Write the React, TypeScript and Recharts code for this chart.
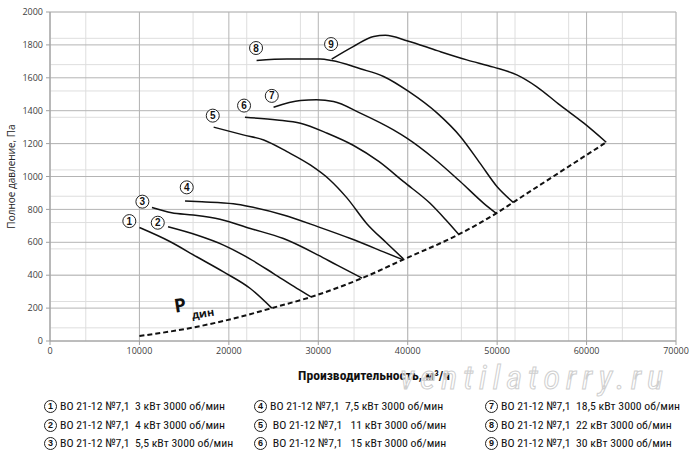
import { ComposedChart, Line, Scatter, XAxis, YAxis, CartesianGrid } from 'recharts';

// fan curves: [flow m3/h, pressure Pa]
const curve1 = [[10000, 690], [13400, 605], [16400, 512], [19400, 420], [22400, 319], [24800, 200]];
const curve2 = [[13200, 694], [16400, 644], [19400, 583], [22400, 498], [25000, 410], [27600, 320], [29200, 268]];
const curve3 = [[11400, 812], [13600, 780], [16000, 766], [19000, 740], [22400, 684], [26100, 623], [30000, 522], [32100, 461], [34900, 382]];
const curve4 = [[15100, 851], [17000, 846], [20500, 834], [22400, 816], [26100, 766], [30000, 694], [33600, 623], [37300, 542], [39500, 493]];
const curve5 = [[18300, 1300], [21600, 1253], [23900, 1222], [26500, 1151], [29100, 1070], [31300, 979], [33200, 870], [35400, 715], [37700, 593], [39500, 500]];
const curve6 = [[21800, 1360], [25400, 1344], [28000, 1324], [31000, 1263], [33900, 1190], [36800, 1090], [39500, 970], [42500, 837], [44200, 740], [45700, 648]];
const curve7 = [[25000, 1421], [28000, 1462], [29800, 1466], [31700, 1456], [34700, 1385], [38400, 1283], [39900, 1233], [42900, 1111], [45900, 968], [48500, 837], [49900, 776]];
const curve8 = [[23100, 1705], [26500, 1714], [30200, 1714], [31500, 1705], [34700, 1655], [37300, 1608], [40100, 1517], [43300, 1385], [45900, 1242], [48100, 1080], [50000, 938], [51800, 843]];
const curve9 = [[31500, 1714], [33900, 1790], [36200, 1851], [37500, 1858], [40000, 1824], [43300, 1765], [46600, 1709], [49600, 1665], [52200, 1618], [54400, 1547], [57000, 1435], [59700, 1324], [62200, 1208]];
const dynamic = [[10000, 30], [16000, 82], [21500, 150], [24800, 200], [29200, 268], [34900, 382], [39500, 495], [45700, 648], [49900, 776], [51800, 843], [62200, 1208]];

const curves = [curve1, curve2, curve3, curve4, curve5, curve6, curve7, curve8, curve9];

// circled number positions
const markerNums = [1, 2, 3, 4, 5, 6, 7, 8, 9];
const markerX = [8870, 12050, 10330, 15290, 18200, 21700, 24800, 23040, 31430];
const markerY = [729, 719, 847, 934, 1370, 1431, 1490, 1781, 1805];

const xTicks = [0, 10000, 20000, 30000, 40000, 50000, 60000, 70000];
const yTicks = [0, 200, 400, 600, 800, 1000, 1200, 1400, 1600, 1800, 2000];
const xMinor = Array.from({ length: 36 }, (_, i) => i * 2000);
const yMinor = Array.from({ length: 51 }, (_, i) => i * 40);

const legendRows = [
  ['1', 'ВО 21-12 №7,1  3 кВт 3000 об/мин', '4', 'ВО 21-12 №7,1  7,5 кВт 3000 об/мин', '7', 'ВО 21-12 №7,1  18,5 кВт 3000 об/мин'],
  ['2', 'ВО 21-12 №7,1  4 кВт 3000 об/мин', '5', ' ВО 21-12 №7,1   11 кВт 3000 об/мин', '8', 'ВО 21-12 №7,1  22 кВт 3000 об/мин'],
  ['3', 'ВО 21-12 №7,1  5,5 кВт 3000 об/мин', '6', ' ВО 21-12 №7,1   15 кВт 3000 об/мин', '9', 'ВО 21-12 №7,1  30 кВт 3000 об/мин'],
];

const toPts = (c: number[][]) => c.map(([x, y]) => ({ x, y }));
const markers = markerNums.map((n, i) => ({ x: markerX[i], y: markerY[i], n }));
const pdinPos = [{ x: 14000, y: 172 }];

const COND = '"Liberation Sans Narrow", "Arial Narrow", "Roboto Condensed", sans-serif';
const TICK = { fontSize: 9, fill: '#404040', fontFamily: '"Open Sans", sans-serif' };

function Circled({ n }: { n: string }) {
  return (
    <span style={{
      display: 'inline-block', width: 11, height: 11, border: '1px solid #222', borderRadius: '50%',
      fontSize: 9, lineHeight: '11px', textAlign: 'center', fontWeight: 'bold', marginRight: 3,
      fontFamily: '"Liberation Sans", sans-serif', verticalAlign: 'middle',
    }}>{n}</span>
  );
}

export default function App() {
  const colX = [44, 254, 485];
  return (
    <div style={{ position: 'absolute', left: 0, top: 0, width: 700, height: 457, background: '#fff' }}>
      <ComposedChart width={700} height={457} margin={{ top: 12, right: 24, left: 0, bottom: 76 }}>
        <CartesianGrid stroke="#dedede" horizontalValues={yMinor} verticalValues={xMinor} />
        <CartesianGrid stroke="#b4b4b4" horizontalValues={yTicks} verticalValues={xTicks} />
        <XAxis type="number" dataKey="x" domain={[0, 70000]} ticks={xTicks} height={40}
          tick={TICK} tickSize={4} tickMargin={3} stroke="#a0a0a0" allowDuplicatedCategory={false}
          label={{
            content: ({ viewBox }: any) => (
              <text x={374} y={viewBox.y + 39} textAnchor="middle"
                fontSize={13.6} fontWeight="bold" fontFamily={COND} fill="#111">
                Производительность, м³/ч
              </text>
            ),
          }} />
        <YAxis type="number" dataKey="y" domain={[0, 2000]} ticks={yTicks} width={50}
          tick={TICK} tickSize={4} tickMargin={3} stroke="#a0a0a0"
          label={{
            content: ({ viewBox }: any) => {
              const cy = viewBox.y + viewBox.height / 2;
              return (
                <text x={12} y={cy} transform={`rotate(-90 12 ${cy})`} textAnchor="middle"
                  dominantBaseline="middle" fontSize={10} fontFamily='"Open Sans", sans-serif' fill="#222">
                  Полное давление, Па
                </text>
              );
            },
          }} />
        <Line data={toPts(dynamic)} dataKey="y" type="monotone" stroke="#111" strokeWidth={2}
          strokeDasharray="5 3" dot={false} isAnimationActive={false} />
        {curves.map((c, i) => (
          <Line key={i} data={toPts(c)} dataKey="y" type="monotone" stroke="#111" strokeWidth={1.5}
            dot={false} isAnimationActive={false} />
        ))}
        <Scatter data={markers} isAnimationActive={false}
          shape={(p: any) => (
            <g>
              <circle cx={p.cx} cy={p.cy} r={6.5} fill="#fff" stroke="#222" strokeWidth={1} />
              <text x={p.cx} y={p.cy + 3.5} textAnchor="middle" fontSize={10} fontWeight="bold"
                fontFamily='"Liberation Sans", sans-serif' fill="#111">{p.payload.n}</text>
            </g>
          )} />
        <Scatter data={pdinPos} isAnimationActive={false}
          shape={(p: any) => (
            <g transform={`rotate(-9 ${p.cx} ${p.cy})`}>
              <text x={p.cx} y={p.cy} fontSize={19} fontWeight="bold" fontFamily='"Open Sans", sans-serif' fill="#111">P</text>
              <text x={p.cx + 16} y={p.cy + 9} fontSize={11} fontWeight="bold" fontFamily='"Open Sans", sans-serif' fill="#111">дин</text>
            </g>
          )} />
      </ComposedChart>

      <svg width={700} height={457} style={{ position: 'absolute', left: 0, top: 0, pointerEvents: 'none' }}>
        <text x={400} y={389} fontSize={34} fontStyle="italic" fontFamily={COND}
          fill="rgba(255,255,255,0.55)" stroke="#cfcfcf" strokeWidth={1} letterSpacing={6}>ventilatorry.ru</text>
      </svg>

      {legendRows.map((row, r) => (
        <div key={r} style={{ position: 'absolute', top: 399 + r * 18.5, left: 0, width: 700, height: 16 }}>
          {[0, 1, 2].map(c => (
            <div key={c} style={{
              position: 'absolute', left: colX[c], top: 0, whiteSpace: 'pre',
              fontFamily: COND, fontSize: 11.8, color: '#111', lineHeight: '14px',
            }}>
              <Circled n={row[c * 2]} />{row[c * 2 + 1]}
            </div>
          ))}
        </div>
      ))}
    </div>
  );
}
